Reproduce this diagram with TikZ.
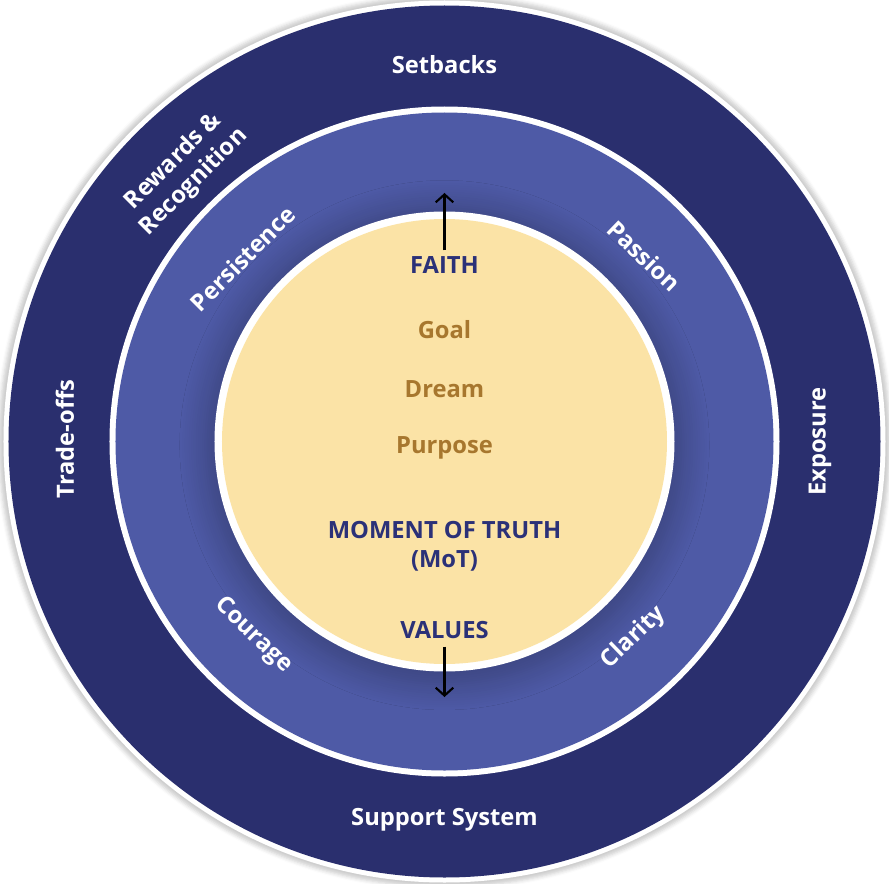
\documentclass[tikz,border=0pt]{standalone}
\usepackage{fontspec}
\setmainfont{Open Sans}
\usetikzlibrary{arrows.meta,shadows.blur}
\definecolor{navy}{HTML}{2A2F6E}
\definecolor{ringblue}{HTML}{4E5AA6}
\definecolor{sand}{HTML}{FBE3A6}
\definecolor{gold}{HTML}{A7772E}
\definecolor{ink}{HTML}{2B3178}

\begin{document}
\begin{tikzpicture}[
  lbl/.style={text=white, font=\fontsize{13.5}{16.5}\selectfont\bfseries, align=center},
  core/.style={text=gold, font=\fontsize{13.5}{16.5}\selectfont\bfseries},
  key/.style={text=ink, font=\fontsize{13.5}{16.5}\selectfont\bfseries, align=center},
  arr/.style={black, line width=1.2pt, -{Straight Barb[length=4.5pt,width=10pt]}}
]
\useasboundingbox (-8.89,-8.83) rectangle (8.89,8.83);
% rings
\fill[white, blur shadow={shadow xshift=0pt, shadow yshift=0pt, shadow scale=1.01, shadow opacity=20}] (0,0) circle[radius=8.82];
\fill[navy](0,0) circle[radius=8.72];
\fill[white](0,0) circle[radius=6.7];
\fill[ringblue](0,0) circle[radius=6.58];
\fill[white, blur shadow={shadow xshift=0pt, shadow yshift=-2pt, shadow scale=1.04, shadow blur radius=14pt, shadow blur steps=12, shadow opacity=25}] (0,0) circle[radius=4.6];
\fill[sand](0,0) circle[radius=4.45];
% outer ring
\node[lbl] (setbacks) at (0,7.53) {Setbacks};
\node[lbl] (support) at (0,-7.57) {Support System};
\node[lbl, rotate=90] (tradeoffs) at (-7.59,0.05) {Trade-offs};
\node[lbl, rotate=90] (exposure) at (7.51,0) {Exposure};
\node[lbl, rotate=45] (rewards) at (134:7.5) {Rewards \&\\Recognition};
% middle ring
\foreach \name/\ang/\rot in {Persistence/137.8/45, Passion/42.9/-44, Courage/225.4/-44, Clarity/-46/44}{
	\node[lbl, rotate=\rot] (\name) at (\ang:5.45) {\name};
}
% core
\node[key] (faith) at (0,3.53) {FAITH};
\node[core] (goal) at (0,2.23) {Goal};
\node[core] (dream) at (0,1.05) {Dream};
\node[core] (purpose) at (0,-0.13) {Purpose};
\node[key] (mot) at (0,-2.1) {MOMENT OF TRUTH\\(MoT)};
\node[key] (values) at (0,-3.77) {VALUES};
\coordinate (faithtip) at (0,4.97);
\coordinate (valuestip) at (0,-5.11);
\draw[arr] ([yshift=0pt]faith.north)--(faithtip);
\draw[arr] ([yshift=-1pt]values.south)--(valuestip);
\end{tikzpicture}
\end{document}
